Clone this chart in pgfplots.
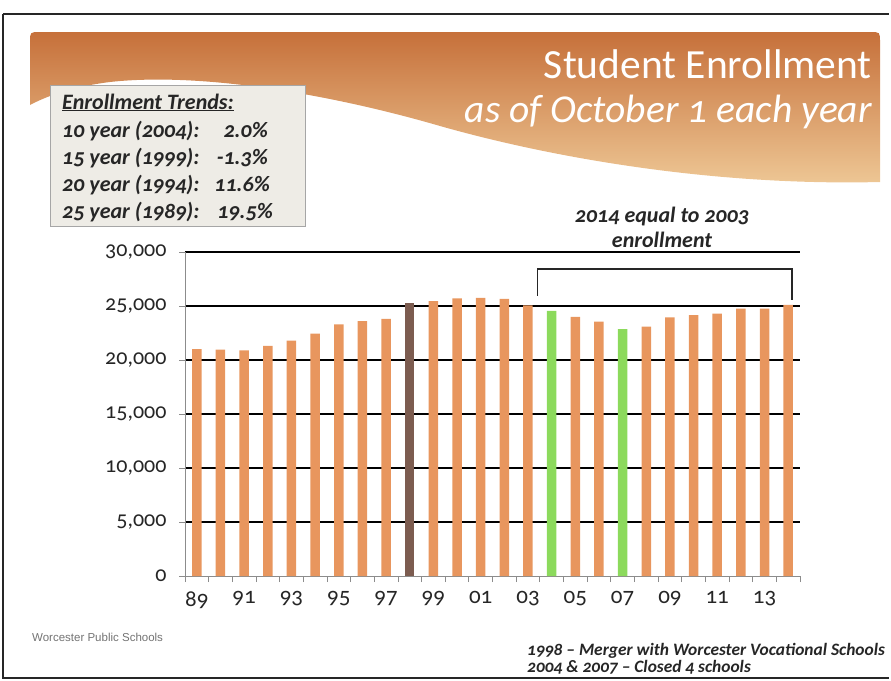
\documentclass[border=0pt]{standalone}
\usepackage{pgfplots}
\pgfplotsset{compat=1.18}
\usepackage{pgfplotstable}
\usepackage{fontspec}
\setmainfont{Carlito}[Numbers=OldStyle]
\newfontfamily\arialfont{Liberation Sans}
\definecolor{barorange}{RGB}{232,150,94}
\definecolor{barbrown}{RGB}{124,92,80}
\definecolor{bargreen}{RGB}{140,218,92}
\definecolor{boxfill}{RGB}{238,236,230}
\definecolor{bantop}{RGB}{198,112,58}
\definecolor{banmid}{RGB}{216,142,84}
\definecolor{banbot}{RGB}{238,200,150}

\pgfplotstableread{
year value
1989 21000
1990 20950
1991 20900
1992 21300
1993 21800
1994 22450
1995 23300
1996 23600
1997 23800
1999 25450
2000 25700
2001 25750
2002 25650
2003 25050
2005 24000
2006 23550
2008 23100
2009 23950
2010 24150
2011 24300
2012 24750
2013 24750
2014 25100
}\regular
\pgfplotstableread{
year value
1998 25250
}\merger
\pgfplotstableread{
year value
2004 24550
2007 22850
}\closed

\begin{document}
\begin{tikzpicture}
\path[use as bounding box] (0pt,0pt) rectangle (891pt,-680pt);
\begin{scope}[x=1pt,y=-1pt]
  % frame
  \draw[line width=1.5pt, black!85] (3,14) -- (889,14);
  \draw[line width=1.5pt, black!85] (3,14) -- (3,678) -- (889,678);
  % banner
  \shade[top color=bantop, middle color=banmid, bottom color=banbot]
    (30,105) -- (30,42) .. controls (30,32) .. (40,32) -- (870,32)
    .. controls (880,32) .. (880,42) -- (880,182)
    .. controls (720,186) and (560,160) .. (440,126)
    .. controls (330,94) and (200,72) .. (110,82)
    .. controls (70,87) and (45,97) .. (30,105) -- cycle;
  \node[anchor=base east, text=white, inner sep=0pt, font=\fontsize{41.5}{44}\selectfont] at (872,78) {Student Enrollment};
  \node[anchor=base east, text=white, inner sep=0pt, font=\fontsize{39.5}{42}\selectfont\itshape] at (872,122) {as of October 1 each year};
  % trends box
  \filldraw[fill=boxfill, draw=black!35, line width=0.8pt] (50,85) rectangle (305,226);
  \begin{scope}[every node/.style={inner sep=0pt, font=\fontsize{22}{24}\selectfont\bfseries\itshape, text=black!85}]
    \node[anchor=base west] at (62,109) {\underline{Enrollment Trends:}};
    \node[anchor=base west] at (62,137) {10 year (2004):};
    \node[anchor=base west] at (62,164) {15 year (1999):};
    \node[anchor=base west] at (62,191) {20 year (1994):};
    \node[anchor=base west] at (62,218) {25 year (1989):};
    \node[anchor=base east] at (268,137) {2.0\%};
    \node[anchor=base east] at (268,164) {-1.3\%};
    \node[anchor=base east] at (270,191) {11.6\%};
    \node[anchor=base east] at (273,218) {19.5\%};
  \end{scope}
  % annotation
  \node[anchor=base, inner sep=0pt, font=\fontsize{22}{24}\selectfont\bfseries\itshape, text=black!85] at (662,222) {2014 equal to 2003};
  \node[anchor=base, inner sep=0pt, font=\fontsize{22}{24}\selectfont\bfseries\itshape, text=black!85] at (662,247) {enrollment};
  % footer
  \node[anchor=base west, inner sep=0pt, font=\fontsize{11.5}{13}\selectfont\arialfont, text=black!55] at (32,641) {Worcester Public Schools};
  \node[anchor=base west, inner sep=0pt, font=\fontsize{17.4}{19}\selectfont\bfseries\itshape, text=black!85] at (527,655) {1998 -- Merger with Worcester Vocational Schools};
  \node[anchor=base west, inner sep=0pt, font=\fontsize{17.4}{19}\selectfont\bfseries\itshape, text=black!85] at (527,672) {2004 \& 2007 -- Closed 4 schools};
\end{scope}

\begin{axis}[
  at={(185pt,-576pt)}, anchor=south west,
  scale only axis, width=615pt, height=324pt,
  xmin=1988.5, xmax=2014.5, ymin=0, ymax=30000,
  axis x line*=bottom, axis y line*=left,
  axis line style={black!45, line width=0.9pt},
  xtick={1989,1991,...,2013},
  xticklabels={89,91,93,95,97,99,01,03,05,07,09,11,13},
  minor xtick={1988.5,1989.5,...,2014.5},
  major x tick style={draw=none},
  minor x tick style={black!45, line width=0.7pt},
  minor tick length=6pt,
  tick align=outside,
  ytick={5000,10000,...,30000},
  extra y ticks={0},
  extra y tick style={grid=none},
  major y tick style={black!45, line width=0.7pt},
  major tick length=6pt,
  ymajorgrids,
  major grid style={black, line width=1.1pt},
  /pgf/number format/assume math mode=true,
  /pgf/number format/1000 sep={,},
  scaled y ticks=false,
  yticklabel={\pgfmathprintnumber{\tick}},
  extra y tick label={\pgfmathprintnumber{\tick}},
  xticklabel style={font=\fontsize{23}{25}\selectfont, text=black!85, yshift=-6pt},
  yticklabel style={font=\fontsize{22}{24}\selectfont, text=black!85, xshift=-9pt},
  ybar, bar width=9.5pt, bar shift=0pt,
  clip=false,
]
\addplot[fill=barorange, draw=none] table[x=year,y=value] {\regular};
\addplot[fill=barbrown, draw=none] table[x=year,y=value] {\merger};
\addplot[fill=bargreen, draw=none] table[x=year,y=value] {\closed};
\draw[black!85, line width=1.6pt] (axis cs:2003.4,25950) -- (axis cs:2003.4,28430) -- (axis cs:2014.15,28430) -- (axis cs:2014.15,25600);
\end{axis}
\end{tikzpicture}
\end{document}
